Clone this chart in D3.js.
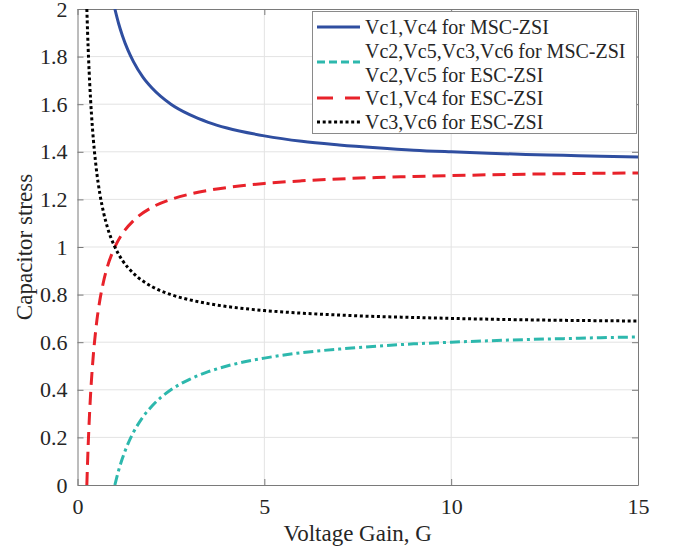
<!DOCTYPE html>
<html>
<head>
<meta charset="utf-8">
<script src="https://cdn.jsdelivr.net/npm/d3@7"></script>
<style>
  body { margin: 0; background: #fff; }
</style>
</head>
<body>
<script>
// Chart data
var gainMSC = [1, 1.1, 1.2, 1.35, 1.5, 1.75, 2, 2.5, 3, 3.5, 4, 5, 6, 7, 8, 9, 10, 11, 12, 13, 14, 15];
var vc14MSC = [2.0, 1.939, 1.889, 1.827, 1.778, 1.714, 1.667, 1.6, 1.556, 1.524, 1.5, 1.467, 1.444, 1.429, 1.417, 1.407, 1.4, 1.394, 1.389, 1.385, 1.381, 1.378];
var vc2356MSC = [0, 0.061, 0.111, 0.173, 0.222, 0.286, 0.333, 0.4, 0.444, 0.476, 0.5, 0.533, 0.556, 0.571, 0.583, 0.593, 0.6, 0.606, 0.611, 0.615, 0.619, 0.622];

var gainESC = [0.25, 0.27, 0.3, 0.35, 0.4, 0.5, 0.6, 0.7, 0.8, 1, 1.2, 1.5, 2, 2.5, 3, 3.5, 4, 5, 6, 7, 8, 9, 10, 12, 15];
var vc14ESC = [0, 0.099, 0.222, 0.381, 0.5, 0.667, 0.778, 0.857, 0.917, 1.0, 1.056, 1.111, 1.167, 1.2, 1.222, 1.238, 1.25, 1.267, 1.278, 1.286, 1.292, 1.296, 1.3, 1.306, 1.311];
var vc36ESC = [2.0, 1.901, 1.778, 1.619, 1.5, 1.333, 1.222, 1.143, 1.083, 1.0, 0.944, 0.889, 0.833, 0.8, 0.778, 0.762, 0.75, 0.733, 0.722, 0.714, 0.708, 0.704, 0.7, 0.694, 0.689];

var xTicks = [0, 5, 10, 15];
var yTicks = [0, 0.2, 0.4, 0.6, 0.8, 1, 1.2, 1.4, 1.6, 1.8, 2];
var legendLabels = [["Vc1,Vc4 for MSC-ZSI"], ["Vc2,Vc5,Vc3,Vc6 for MSC-ZSI", "Vc2,Vc5 for ESC-ZSI"], ["Vc1,Vc4 for ESC-ZSI"], ["Vc3,Vc6 for ESC-ZSI"]];

var width = 673, height = 553;
var plotL = 77.5, plotR = 638, plotT = 9, plotB = 485;
var serif = "'Liberation Serif', 'Times New Roman', serif";
var ink = "#262626";

var svg = d3.select("body").append("svg")
    .attr("width", width)
    .attr("height", height)
    .attr("font-family", serif);

var x = d3.scaleLinear().domain([0, 15]).range([plotL, plotR]);
var y = d3.scaleLinear().domain([0, 2]).range([plotB, plotT]);

// Grid
svg.append("g").selectAll("line")
    .data(xTicks.slice(1, -1)).enter().append("line")
    .attr("x1", d => x(d)).attr("x2", d => x(d))
    .attr("y1", plotT).attr("y2", plotB)
    .attr("stroke", "#e3e3e3").attr("stroke-width", 1);
svg.append("g").selectAll("line")
    .data(yTicks.slice(1, -1)).enter().append("line")
    .attr("x1", plotL).attr("x2", plotR)
    .attr("y1", d => y(d)).attr("y2", d => y(d))
    .attr("stroke", "#e3e3e3").attr("stroke-width", 1);

// Axes with inward ticks
function styleAxis(g) {
    g.attr("font-family", serif).attr("font-size", 22);
    g.select(".domain").attr("stroke", "#7a7a7a");
    g.selectAll(".tick line").attr("stroke", "#7a7a7a");
    g.selectAll(".tick text").attr("fill", ink);
}
svg.append("g").attr("transform", "translate(0," + plotB + ")")
    .call(d3.axisBottom(x).tickValues(xTicks).tickSizeInner(-6).tickSizeOuter(0).tickPadding(13).tickFormat(d3.format("d")))
    .call(styleAxis);
svg.append("g").attr("transform", "translate(" + plotL + ",0)")
    .call(d3.axisLeft(y).tickValues(yTicks).tickSizeInner(-6).tickSizeOuter(0).tickPadding(10).tickFormat(d => String(+d.toFixed(1))))
    .call(styleAxis);
svg.append("g").attr("transform", "translate(0," + plotT + ")")
    .call(d3.axisTop(x).tickValues(xTicks).tickSizeInner(-6).tickSizeOuter(0).tickFormat(""))
    .call(styleAxis);
svg.append("g").attr("transform", "translate(" + plotR + ",0)")
    .call(d3.axisRight(y).tickValues(yTicks).tickSizeInner(-6).tickSizeOuter(0).tickFormat(""))
    .call(styleAxis);

// Axis titles
svg.append("text")
    .attr("x", (plotL + plotR) / 2)
    .attr("y", 541)
    .attr("text-anchor", "middle")
    .attr("font-size", 23)
    .attr("fill", ink)
    .text("Voltage Gain, G");
svg.append("text")
    .attr("transform", "translate(32," + ((plotT + plotB) / 2) + ") rotate(-90)")
    .attr("text-anchor", "middle")
    .attr("font-size", 23)
    .attr("fill", ink)
    .text("Capacitor stress");

// Curves
svg.append("clipPath").attr("id", "clip")
    .append("rect").attr("x", plotL).attr("y", plotT).attr("width", plotR - plotL).attr("height", plotB - plotT);

var series = [
    { gain: gainMSC, vals: vc14MSC, color: "#2f4ea0", dash: null },
    { gain: gainMSC, vals: vc2356MSC, color: "#2db8ad", dash: "10,4,3,4" },
    { gain: gainESC, vals: vc14ESC, color: "#e8222a", dash: "13,7" },
    { gain: gainESC, vals: vc36ESC, color: "#000000", dash: "3,2.7" }
];

var line = d3.line()
    .x(d => x(d[0]))
    .y(d => y(d[1]))
    .curve(d3.curveMonotoneX);

svg.append("g").attr("clip-path", "url(#clip)")
    .selectAll("path")
    .data(series).enter().append("path")
    .attr("d", s => line(s.gain.map((g, i) => [g, s.vals[i]])))
    .attr("fill", "none")
    .attr("stroke", s => s.color)
    .attr("stroke-width", 3)
    .attr("stroke-dasharray", s => s.dash);

// Legend
var legend = svg.append("g");
legend.append("rect")
    .attr("x", 312.5).attr("y", 11.5)
    .attr("width", 324).attr("height", 122)
    .attr("fill", "#fff").attr("stroke", "#8a8a8a").attr("stroke-width", 1);

var rowY = [27, 51, 75, 98, 122];
var sampleY = [27, 62, 98, 122];
var textRow = 0;
legendLabels.forEach(function(lines, i) {
    legend.append("line")
        .attr("x1", 317).attr("x2", 360)
        .attr("y1", sampleY[i]).attr("y2", sampleY[i])
        .attr("stroke", series[i].color)
        .attr("stroke-width", 3)
        .attr("stroke-dasharray", i == 2 ? "16,12" : (i == 1 ? "8,4" : series[i].dash));
    lines.forEach(function(t) {
        legend.append("text")
            .attr("x", 365)
            .attr("y", rowY[textRow] + 7)
            .attr("font-size", 20)
            .attr("fill", ink)
            .text(t);
        textRow++;
    });
});
</script>
</body>
</html>
